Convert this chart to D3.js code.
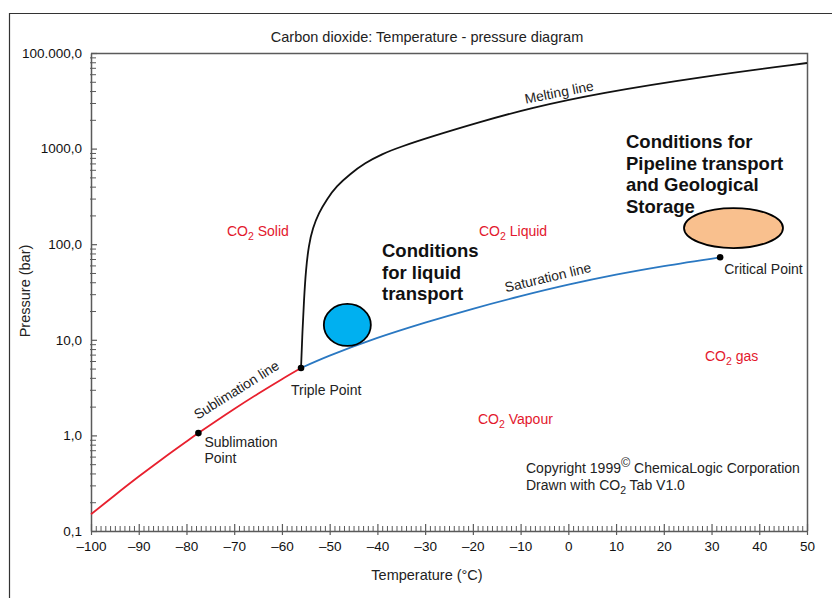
<!DOCTYPE html>
<html>
<head>
<meta charset="utf-8">
<script src="https://cdn.jsdelivr.net/npm/d3@7"></script>
<style>
  html, body { margin: 0; padding: 0; background: #fff; }
  svg { display: block; font-family: "Liberation Sans", Arial, Helvetica, sans-serif; }
</style>
</head>
<body>
<svg id="chart" width="832" height="598"></svg>
<script>
// ---------------- data ----------------
const xTicks = [-100, -90, -80, -70, -60, -50, -40, -30, -20, -10, 0, 10, 20, 30, 40, 50];
const xTickLabels = ["–100", "–90", "–80", "–70", "–60", "–50", "–40", "–30", "–20", "–10", "0", "10", "20", "30", "40", "50"];
const yTicks = [0.1, 1, 10, 100, 1000, 10000];
const yTickLabels = ["0,1", "1,0", "10,0", "100,0", "1000,0", "100.000,0"];

// sublimation line (solid-vapour)
const sublimationT = [-100, -95, -90, -85, -80, -77.5, -70, -65, -60, -56];
const sublimationP = [0.1495, 0.237, 0.371, 0.571, 0.864, 1.057, 1.889, 2.73, 3.876, 5.07];

// saturation line (liquid-vapour)
const saturationT = [-56, -50, -40, -30, -20, -10, 0, 10, 20, 31.8];
const saturationP = [5.07, 6.82, 10.45, 15.1, 21.1, 28.6, 37.7, 48.0, 59.0, 73];

// melting line (solid-liquid)
const meltingT = [-56, -55.69, -55.38, -54.99, -54.38, -53.54, -52.29, -50.56, -48.55, -45.74, -42.6, -39.04, -35.27, -28.98, -18.51, -8.03, 6.63, 27.58, 50];
const meltingP = [5.07, 12.66, 26.1, 53.7, 98.1, 147.7, 212, 297, 406, 542, 707, 878, 1039, 1322, 1898, 2658, 3815, 5610, 7862];

// special points
const pointNames = ["Sublimation Point", "Triple Point", "Critical Point"];
const pointT = [-77.5, -56, 31.8];
const pointP = [1.057, 5.07, 73];

// transport condition regions (centres)
const regionNames = ["liquid transport", "pipeline/storage"];
const regionT = [-46.3, 34.6];
const regionP = [14.3, 147.6];

// ---------------- drawing ----------------
const svg = d3.select("#chart");
const W = 832, H = 598;
const plot = { left: 91, right: 807, top: 53, bottom: 531 };

const x = d3.scaleLinear().domain([-100, 50]).range([plot.left, plot.right]);
const y = d3.scaleLog().domain([0.1, 10000]).range([plot.bottom, plot.top]);

const axisColor = "#5a5a5a";
const red = "#e3172d";

// outer frame
svg.append("path")
  .attr("d", `M9.5,${H} L9.5,13.5 L${W},13.5`)
  .attr("fill", "none").attr("stroke", "#333").attr("stroke-width", 1.2);

// title
svg.append("text").attr("x", 427).attr("y", 42).attr("text-anchor", "middle")
  .attr("font-size", 14.5).attr("fill", "#222")
  .text("Carbon dioxide: Temperature - pressure diagram");

// plot frame (top & right)
svg.append("path")
  .attr("d", `M${plot.left},${plot.top + 0.5} L${plot.right + 0.5},${plot.top + 0.5} L${plot.right + 0.5},${plot.bottom}`)
  .attr("fill", "none").attr("stroke", axisColor).attr("stroke-width", 1.5);

// x axis
const xMinor = d3.range(-100, 51, 1).filter(v => v % 10 !== 0);
const xAxisMinor = d3.axisBottom(x).tickValues(xMinor).tickSize(-5).tickFormat("");
const gxm = svg.append("g").attr("transform", `translate(0,${plot.bottom})`).call(xAxisMinor);
gxm.select(".domain").remove();
gxm.selectAll(".tick line").attr("stroke", axisColor).attr("stroke-width", 1);

const xAxis = d3.axisBottom(x).tickValues(xTicks).tickSizeInner(4).tickSizeOuter(0).tickPadding(6)
  .tickFormat((d, i) => xTickLabels[i]);
const gx = svg.append("g").attr("transform", `translate(0,${plot.bottom})`).call(xAxis);
gx.select(".domain").attr("stroke", axisColor).attr("stroke-width", 1.5);
gx.selectAll(".tick line").attr("y1", -7).attr("stroke", axisColor).attr("stroke-width", 1.2);
gx.selectAll(".tick text").attr("font-size", 13.5).attr("fill", "#111")
  .attr("font-family", "Liberation Sans, Arial, sans-serif");

// y axis
const yMinor = [];
for (let e = -1; e < 4; e++) for (let k = 2; k <= 9; k++) yMinor.push(k * Math.pow(10, e));
const yAxisMinor = d3.axisRight(y).tickValues(yMinor).tickSize(6).tickFormat("");
const gym = svg.append("g").attr("transform", `translate(${plot.left - 1},0)`).call(yAxisMinor);
gym.select(".domain").remove();
gym.selectAll(".tick line").attr("stroke", axisColor).attr("stroke-width", 1);

const yAxis = d3.axisLeft(y).tickValues(yTicks).tickSizeInner(6).tickSizeOuter(0).tickPadding(3)
  .tickFormat((d, i) => yTickLabels[i]);
const gy = svg.append("g").attr("transform", `translate(${plot.left},0)`).call(yAxis);
gy.select(".domain").attr("stroke", axisColor).attr("stroke-width", 1.5);
gy.selectAll(".tick line").attr("x2", 6).attr("stroke", axisColor).attr("stroke-width", 1.2);
gy.selectAll(".tick text").attr("font-size", 13.5).attr("fill", "#111")
  .attr("font-family", "Liberation Sans, Arial, sans-serif");

// axis titles
svg.append("text").attr("x", 427).attr("y", 580).attr("text-anchor", "middle")
  .attr("font-size", 14.5).attr("fill", "#222").text("Temperature (°C)");
svg.append("text").attr("transform", "translate(30,291) rotate(-90)").attr("text-anchor", "middle")
  .attr("font-size", 14.5).attr("fill", "#222").text("Pressure (bar)");

// curves
const line = d3.line().x(d => x(d[0])).y(d => y(d[1])).curve(d3.curveCatmullRom.alpha(0.5));
const smoothLine = d3.line().x(d => x(d[0])).y(d => y(d[1])).curve(d3.curveBasis);
const zip = (a, b) => a.map((v, i) => [v, b[i]]);

svg.append("path").datum(zip(meltingT, meltingP)).attr("d", smoothLine)
  .attr("fill", "none").attr("stroke", "#111").attr("stroke-width", 1.8);
svg.append("path").datum(zip(sublimationT, sublimationP)).attr("d", line)
  .attr("fill", "none").attr("stroke", "#e8202e").attr("stroke-width", 1.8);
svg.append("path").datum(zip(saturationT, saturationP)).attr("d", line)
  .attr("fill", "none").attr("stroke", "#2a78c2").attr("stroke-width", 1.8);

// ellipses
const regionStyle = [
  { rx: 23.5, ry: 21, fill: "#00b0f0" },
  { rx: 49.5, ry: 20, fill: "#f9c08e" }
];
svg.selectAll("ellipse.region").data(regionNames).join("ellipse")
  .attr("class", "region")
  .attr("cx", (d, i) => x(regionT[i])).attr("cy", (d, i) => y(regionP[i]))
  .attr("rx", (d, i) => regionStyle[i].rx).attr("ry", (d, i) => regionStyle[i].ry)
  .attr("fill", (d, i) => regionStyle[i].fill).attr("stroke", "#000").attr("stroke-width", 1.8);

// points
svg.selectAll("circle.pt").data(pointNames).join("circle")
  .attr("class", "pt")
  .attr("cx", (d, i) => x(pointT[i])).attr("cy", (d, i) => y(pointP[i]))
  .attr("r", 3.3).attr("fill", "#000");

// point labels
const lbl = (px, py, lines, size) => {
  const t = svg.append("text").attr("x", px).attr("y", py).attr("font-size", size || 14).attr("fill", "#222");
  lines.forEach((s, i) => t.append("tspan").attr("x", px).attr("dy", i === 0 ? 0 : 16).text(s));
  return t;
};
lbl(x(pointT[0]) + 6, y(pointP[0]) + 14, ["Sublimation", "Point"]);
lbl(x(pointT[1]) - 10, y(pointP[1]) + 27, ["Triple Point"]);
lbl(x(pointT[2]) + 4, y(pointP[2]) + 17, ["Critical Point"]);

// phase labels (red, with subscript)
function co2(px, py, rest) {
  const t = svg.append("text").attr("x", px).attr("y", py).attr("font-size", 14).attr("fill", red);
  t.append("tspan").text("CO");
  t.append("tspan").attr("dy", 4).attr("font-size", 10.5).text("2");
  t.append("tspan").attr("dy", -4).text(" " + rest);
}
co2(227, 236, "Solid");
co2(479, 236, "Liquid");
co2(705, 361, "gas");
co2(478, 424, "Vapour");

// line labels (rotated)
function rotLabel(px, py, ang, s) {
  svg.append("text").attr("transform", `translate(${px},${py}) rotate(${ang})`)
    .attr("text-anchor", "middle").attr("font-size", 13.8).attr("fill", "#222").text(s);
}
rotLabel(239, 394, -32, "Sublimation line");
rotLabel(549, 282, -13.5, "Saturation line");
rotLabel(560, 97, -11, "Melting line");

// bold annotations
function bold(px, py, lines) {
  const t = svg.append("text").attr("x", px).attr("y", py).attr("font-size", 18.5)
    .attr("font-weight", "bold").attr("fill", "#111");
  lines.forEach((s, i) => t.append("tspan").attr("x", px).attr("dy", i === 0 ? 0 : 21.5).text(s));
}
bold(382, 257, ["Conditions", "for liquid", "transport"]);
bold(626, 148, ["Conditions for", "Pipeline transport", "and Geological", "Storage"]);

// copyright
const c1 = svg.append("text").attr("x", 526).attr("y", 473).attr("font-size", 14).attr("fill", "#222");
c1.append("tspan").text("Copyright 1999");
c1.append("tspan").attr("dy", -6).attr("font-size", 12.5).text("©");
c1.append("tspan").attr("dy", 6).text(" ChemicaLogic Corporation");
const c2 = svg.append("text").attr("x", 526).attr("y", 490).attr("font-size", 14).attr("fill", "#222");
c2.append("tspan").text("Drawn with CO");
c2.append("tspan").attr("dy", 4).attr("font-size", 10.5).text("2");
c2.append("tspan").attr("dy", -4).text(" Tab V1.0");
</script>
</body>
</html>
